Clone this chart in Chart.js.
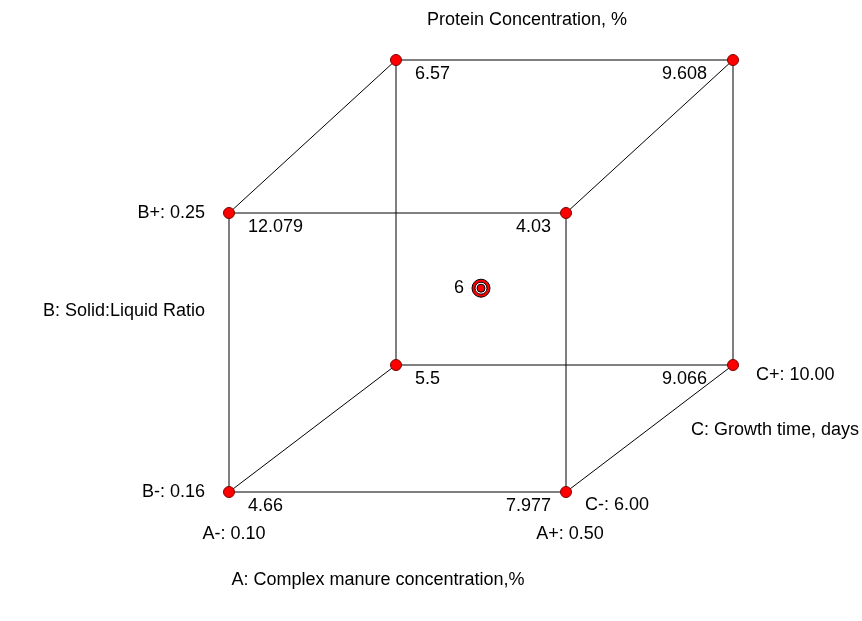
<!DOCTYPE html>
<html>
<head>
<meta charset="utf-8">
<script src="https://cdn.jsdelivr.net/npm/chart.js@4.4.1/dist/chart.umd.min.js"></script>
<style>
  html, body { margin: 0; padding: 0; background: #fff; }
  #wrap { width: 862px; height: 621px; }
</style>
</head>
<body>
<div id="wrap"><canvas id="graph" width="862" height="621"></canvas></div>
<script>
// coded levels of each corner run and the measured response
var codeA = [-1, 1, -1, 1, -1, 1, -1, 1];
var codeB = [-1, -1, 1, 1, -1, -1, 1, 1];
var codeC = [-1, -1, -1, -1, 1, 1, 1, 1];
var protein = [4.66, 7.977, 12.079, 4.03, 5.5, 9.066, 6.57, 9.608];
var proteinLabels = ['4.66', '7.977', '12.079', '4.03', '5.5', '9.066', '6.57', '9.608'];
var centerLabel = '6';

var levelsA = ['0.10', '0.50'];
var levelsB = ['0.16', '0.25'];
var levelsC = ['6.00', '10.00'];
var title = 'Protein Concentration, %';
var nameA = 'A: Complex manure concentration,%';
var nameB = 'B: Solid:Liquid Ratio';
var nameC = 'C: Growth time, days';

var FONT = '18px "Liberation Sans", Arial, sans-serif';

// oblique view of the cube, coded units -> chart units
function project(a, b, c) {
  var u = (a + 1) / 2, v = (b + 1) / 2, w = (c + 1) / 2;
  return {
    x: 229 + 337 * u + 167 * w,
    y: 492 - 279 * v - 127 * w - 26 * v * Math.pow(w, 4)
  };
}

var corners = codeA.map(function (a, i) { return project(a, codeB[i], codeC[i]); });
var center = project(0, 0, 0);

// cube edges join corners that differ in one factor only
var datasets = [];
for (var i = 0; i < corners.length; i++) {
  for (var j = i + 1; j < corners.length; j++) {
    var diff = (codeA[i] != codeA[j]) + (codeB[i] != codeB[j]) + (codeC[i] != codeC[j]);
    if (diff == 1) {
      datasets.push({
        data: [corners[i], corners[j]],
        showLine: true,
        borderColor: '#000',
        borderWidth: 1,
        pointRadius: 0,
        order: 10
      });
    }
  }
}

datasets.push({
  data: corners,
  pointRadius: 5.5,
  pointBackgroundColor: '#ff0000',
  pointBorderColor: '#7a0000',
  pointBorderWidth: 1,
  order: 5
});
// center point drawn as a target
datasets.push({ data: [center], pointRadius: 9, pointBackgroundColor: '#ff0000', pointBorderColor: '#000', pointBorderWidth: 1, order: 3 });
datasets.push({ data: [center], pointRadius: 6, pointBackgroundColor: '#fff', pointBorderColor: '#000', pointBorderWidth: 1, order: 2 });
datasets.push({ data: [center], pointRadius: 4, pointBackgroundColor: '#ff0000', pointBorderColor: '#000', pointBorderWidth: 1, order: 1 });

var cubeText = {
  id: 'cubeText',
  afterDatasetsDraw: function (chart) {
    var ctx = chart.ctx;
    var sx = chart.scales.x, sy = chart.scales.y;
    function px(p) { return { x: sx.getPixelForValue(p.x), y: sy.getPixelForValue(p.y) }; }
    function put(t, x, y, align) {
      ctx.textAlign = align;
      ctx.fillText(t, x, y);
    }
    ctx.save();
    ctx.font = FONT;
    ctx.fillStyle = '#000';
    ctx.textBaseline = 'middle';

    corners.forEach(function (c, i) {
      var p = px(c);
      if (codeA[i] < 0) put(proteinLabels[i], p.x + 19, p.y + 14, 'left');
      else put(proteinLabels[i], p.x - (codeC[i] < 0 ? 15 : 26), p.y + 14, 'right');
    });

    var fbl = px(project(-1, -1, -1)), ftl = px(project(-1, 1, -1));
    var fbr = px(project(1, -1, -1)), bbr = px(project(1, -1, 1));
    put('B-: ' + levelsB[0], fbl.x - 24, fbl.y, 'right');
    put('B+: ' + levelsB[1], ftl.x - 24, ftl.y, 'right');
    put('A-: ' + levelsA[0], fbl.x + 5, fbl.y + 42, 'center');
    put('A+: ' + levelsA[1], fbr.x + 4, fbr.y + 42, 'center');
    put('C-: ' + levelsC[0], fbr.x + 19, fbr.y + 13, 'left');
    put('C+: ' + levelsC[1], bbr.x + 23, bbr.y + 10, 'left');

    var cp = px(center);
    put(centerLabel, cp.x - 17, cp.y, 'right');

    put(title, 527, 20, 'center');
    put(nameA, 378, 580, 'center');
    put(nameB, 205, 311, 'right');
    put(nameC, 691, 430, 'left');
    ctx.restore();
  }
};

var chart = new Chart(document.getElementById('graph').getContext('2d'), {
  type: 'scatter',
  data: { datasets: datasets },
  options: {
    responsive: false,
    animation: false,
    layout: { padding: 0, autoPadding: false },
    plugins: { legend: { display: false }, tooltip: { enabled: false } },
    scales: {
      x: { type: 'linear', display: false, min: 0, max: 862 },
      y: { type: 'linear', display: false, min: 0, max: 621, reverse: true }
    },
    elements: { point: { hoverRadius: 0 } }
  },
  plugins: [cubeText]
});
</script>
</body>
</html>
